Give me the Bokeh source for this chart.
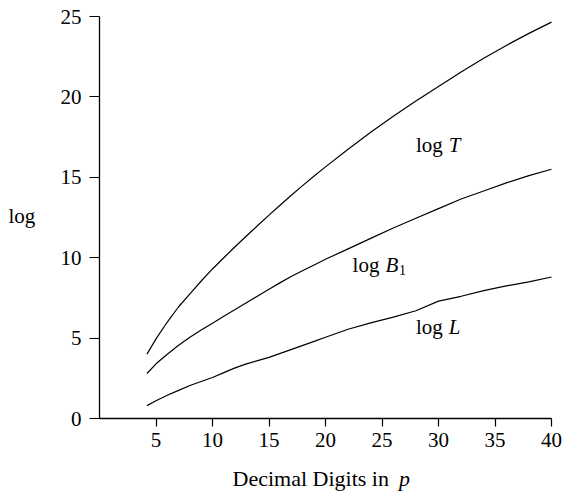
from bokeh.plotting import figure
from bokeh.models import Range1d, Label, FixedTicker
from bokeh.embed import file_html
from bokeh.resources import INLINE

# Data
digits = [4.2, 5, 6, 7, 8, 9, 10, 11, 12, 13, 14, 15, 16, 17, 18, 19, 20,
          22, 24, 26, 28, 30, 32, 34, 36, 38, 40]
log_T = [4.0, 4.95, 6.0, 6.95, 7.75, 8.55, 9.3, 10.0, 10.68, 11.35, 12.0,
         12.65, 13.28, 13.9, 14.5, 15.08, 15.65, 16.75, 17.8, 18.8, 19.75,
         20.65, 21.55, 22.4, 23.2, 23.95, 24.65]
log_B1 = [2.8, 3.4, 4.0, 4.55, 5.05, 5.5, 5.93, 6.36, 6.78, 7.2, 7.62, 8.04,
          8.45, 8.85, 9.2, 9.55, 9.9, 10.55, 11.2, 11.85, 12.45, 13.05, 13.65,
          14.15, 14.65, 15.1, 15.5]
log_L = [0.8, 1.1, 1.45, 1.75, 2.05, 2.3, 2.55, 2.85, 3.15, 3.4, 3.6, 3.8,
         4.05, 4.3, 4.55, 4.8, 5.05, 5.55, 5.95, 6.3, 6.7, 7.3, 7.6, 7.95,
         8.25, 8.5, 8.8]
x_ticks = [5, 10, 15, 20, 25, 30, 35, 40]
y_ticks = [0, 5, 10, 15, 20, 25]

FONT = "Liberation Serif"

# frame covers the whole canvas; axes are pinned at x=0 and y=0
p = figure(width=562, height=494, output_backend="svg", toolbar_location=None,
           x_range=Range1d(-99 / 11.3, 40 + 11 / 11.3),
           y_range=Range1d(-76 / 16.08, 25 + 16 / 16.08),
           min_border=0)
p.outline_line_color = None
p.grid.visible = False
p.background_fill_color = "white"
p.border_fill_color = "white"

for ax in (p.xaxis[0], p.yaxis[0]):
    ax.fixed_location = 0
    ax.axis_line_color = "black"
    ax.axis_line_width = 1.3
    ax.major_tick_line_color = "black"
    ax.major_tick_line_width = 1.2
    ax.minor_tick_line_color = None
    ax.major_tick_in = 0
    ax.major_label_text_font = FONT
    ax.major_label_text_font_size = "21px"
    ax.major_label_text_color = "black"

p.xaxis.bounds = (0, 40)
p.yaxis.bounds = (0, 25)
p.xaxis.ticker = FixedTicker(ticks=x_ticks)
p.yaxis.ticker = FixedTicker(ticks=y_ticks)
p.xaxis.major_tick_out = 8
p.yaxis.major_tick_out = 10
p.xaxis.major_label_standoff = 6
p.yaxis.major_label_standoff = 8

for ys in (log_T, log_B1, log_L):
    p.line(digits, ys, line_color="black", line_width=1.2)

def lab(x, y, text, italic=False, size="21px", align="left"):
    p.add_layout(Label(x=x, y=y + 0.45, text=text, text_font=FONT,
                       text_font_size=size, text_align=align,
                       text_baseline="alphabetic", text_color="black",
                       text_font_style="italic" if italic else "normal"))

lab(28.0, 16.54, "log")
lab(30.9, 16.54, "T", italic=True)
lab(22.4, 9.1, "log")
lab(25.3, 9.1, "B", italic=True)
lab(26.5, 8.8, "1", size="14px")
lab(28.0, 5.27, "log")
lab(30.9, 5.27, "L", italic=True)

lab(-8.05, 12.15, "log")
lab(11.77, -4.17, "Decimal Digits in", size="22px")
lab(26.5, -4.17, "p", italic=True, size="22px")

open("out.html", "w").write(file_html(p, INLINE))
